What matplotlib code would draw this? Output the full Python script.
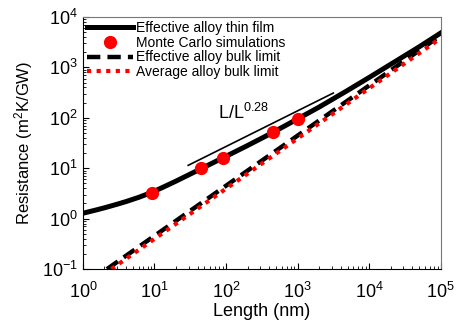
import matplotlib
matplotlib.use("Agg")
import matplotlib.pyplot as plt

plt.rcParams["font.family"] = ["Liberation Sans", "DejaVu Sans"]
plt.rcParams["mathtext.fontset"] = "custom"
plt.rcParams["mathtext.rm"] = "Liberation Sans"
plt.rcParams["mathtext.it"] = "Liberation Sans:italic"

# values
film_len = [1, 1.5, 2, 3, 4, 6, 9.1, 13, 20, 45, 90, 200, 455, 1000, 2000, 5000, 1e4, 2e4, 5e4, 1e5]
film_res = [1.28, 1.475, 1.64, 1.93, 2.18, 2.64, 3.3, 4.16, 5.55, 9.8, 16.0, 28.2, 51.5, 95,
            163, 349, 630, 1150, 2550, 4800]

mc_len = [9.2, 45, 90, 455, 1000]
mc_res = [3.3, 10.0, 16.3, 53, 96]

eff_bulk_len = [2.17, 1e5]
eff_bulk_res = [0.1, 4300]

avg_bulk_len = [2.5, 1e5]
avg_bulk_res = [0.1, 3800]

guide_len = [29.6, 3150]
guide_res = [11.4, 309]

xticks = [1, 10, 100, 1e3, 1e4, 1e5]
xlabels = ["$10^{0}$", "$10^{1}$", "$10^{2}$", "$10^{3}$", "$10^{4}$", "$10^{5}$"]
yticks = [0.1, 1, 10, 100, 1e3, 1e4]
ylabels = ["$10^{-1}$", "$10^{0}$", "$10^{1}$", "$10^{2}$", "$10^{3}$", "$10^{4}$"]

fig = plt.figure(figsize=(4.63, 3.31), dpi=100)
ax = fig.add_axes([0.179, 0.187, 0.773, 0.762])

ax.plot(film_len, film_res, color="black", lw=3.6, label="Effective alloy thin film")
ax.plot(mc_len, mc_res, "o", color="red", ms=8.5, label="Monte Carlo simulations")
ax.plot(eff_bulk_len, eff_bulk_res, color="black", lw=3.2, dashes=(3, 1.6),
        label="Effective alloy bulk limit")
ax.plot(avg_bulk_len, avg_bulk_res, color="red", lw=3.0, dashes=(1, 1.3),
        label="Average alloy bulk limit")
ax.plot(guide_len, guide_res, color="black", lw=1.2)
ax.text(76, 95, "L/L$^{0.28}$", fontsize=13)

ax.set_xscale("log")
ax.set_yscale("log")
ax.set_xlim(1, 1e5)
ax.set_ylim(0.1, 1e4)
ax.set_xticks(xticks)
ax.set_xticklabels(xlabels)
ax.set_yticks(yticks)
ax.set_yticklabels(ylabels)
ax.tick_params(which="both", direction="in", top=False, right=False, labelsize=13)
ax.tick_params(which="major", length=4)
ax.tick_params(which="minor", length=2)
ax.tick_params(axis="x", which="major", pad=9)
for side in ["top", "right"]:
    ax.spines[side].set_color("#777777")
    ax.spines[side].set_linewidth(0.8)

ax.set_xlabel("Length (nm)", fontsize=13, labelpad=1)
ax.set_ylabel("Resistance (m$^{2}$K/GW)", fontsize=12, labelpad=5)

ax.legend(loc="upper left", frameon=False, fontsize=10, handlelength=3.3,
          handletextpad=0.2, labelspacing=0.05, borderpad=0.2, borderaxespad=0.1)

fig.savefig("out.png", dpi=100)
